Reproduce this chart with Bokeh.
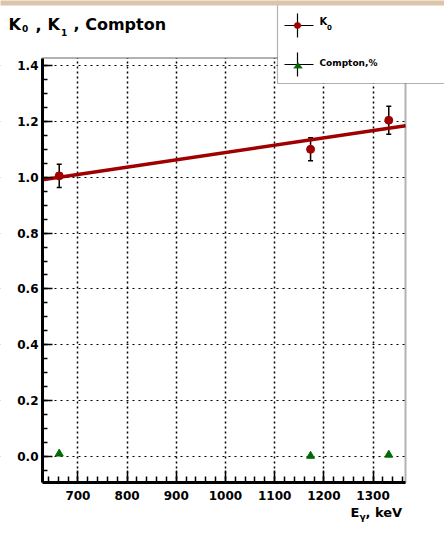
from bokeh.plotting import figure
from bokeh.models import (Range1d, FixedTicker, PrintfTickFormatter, Whisker, TeeHead,
                          Label, BoxAnnotation, Arrow, PolyAnnotation, ColumnDataSource)
from bokeh.embed import file_html
from bokeh.resources import INLINE
import numpy as np

# ---------------- data ----------------
energy_kev = [662, 1173, 1332]
k0_values = [1.005, 1.100, 1.204]
k0_errors = [0.042, 0.041, 0.050]
compton_values = [0.010, 0.002, 0.006]
fit_intercept = 0.8265
fit_slope = 0.000262
x_ticks = [700, 800, 900, 1000, 1100, 1200, 1300]
y_ticks = [0.0, 0.2, 0.4, 0.6, 0.8, 1.0, 1.2, 1.4]
x_minor_ticks = list(range(640, 1361, 20))
y_minor_ticks = [round(-0.05 + 0.05 * i, 2) for i in range(30)]
x_lo, x_hi = 628, 1366          # plot-box data limits
y_lo, y_hi = -0.093, 1.427

# ---------------- layout (pixels) ----------------
W, H = 444, 533
BOX_L, BOX_R, BOX_T, BOX_B = 42, 405, 57.5, 482
TXT_DY = 5  # baseline correction for labels

RED = "#a00000"
GREEN = "#006a00"
FONT = "DejaVu Sans"

# whole canvas is the frame; ranges extended so that the plot box sits where wanted
pxu_x = (BOX_R - BOX_L) / (x_hi - x_lo)
pxu_y = (BOX_B - BOX_T) / (y_hi - y_lo)
x_start = x_lo - BOX_L / pxu_x
x_end = x_hi + (W - BOX_R) / pxu_x
y_start = y_lo - (H - BOX_B) / pxu_y
y_end = y_hi + BOX_T / pxu_y

p = figure(width=W, height=H, output_backend="svg", toolbar_location=None,
           x_range=Range1d(x_start, x_end), y_range=Range1d(y_start, y_end),
           min_border_left=0, min_border_right=0, min_border_top=0, min_border_bottom=0)
p.title.visible = False
p.background_fill_color = "white"
p.border_fill_color = "white"
p.outline_line_color = None

# axes pinned to the plot box
p.xaxis.fixed_location = y_lo
p.yaxis.fixed_location = x_lo
p.xaxis.bounds = (x_lo, x_hi)
p.yaxis.bounds = (y_lo, y_hi)
for ax in (p.xaxis[0], p.yaxis[0]):
    ax.axis_line_width = 3
    ax.axis_line_color = "black"
    ax.major_tick_line_width = 1.5
    ax.minor_tick_line_width = 1.5
    ax.major_tick_out = 0
    ax.minor_tick_out = 0
    ax.major_label_text_font = FONT
    ax.major_label_text_font_style = "bold"
    ax.major_label_text_font_size = "12px"
    ax.major_label_text_color = "black"

p.xaxis.ticker = FixedTicker(ticks=x_ticks, minor_ticks=x_minor_ticks)
p.yaxis.ticker = FixedTicker(ticks=y_ticks, minor_ticks=y_minor_ticks)
p.yaxis.formatter = PrintfTickFormatter(format="%.1f")
p.xaxis.major_tick_in = 12
p.xaxis.minor_tick_in = 6
p.yaxis.major_tick_in = 10
p.yaxis.minor_tick_in = 5
p.xaxis.major_label_standoff = 8
p.yaxis.major_label_standoff = 4

p.xgrid.grid_line_color = "black"
p.xgrid.grid_line_dash = "2 3"
p.xgrid.grid_line_width = 1.5
p.ygrid.grid_line_color = "black"
p.ygrid.grid_line_dash = "2 4"
p.ygrid.grid_line_width = 1.2

# white covers so the grid stays inside the plot box
big = 1e4
for l, r, b, t in [(x_start - big, x_end + big, y_hi, y_end + big),
                   (x_start - big, x_end + big, y_start - big, y_lo),
                   (x_start - big, x_lo, y_start - big, y_end + big),
                   (x_hi, x_end + big, y_start - big, y_end + big)]:
    p.add_layout(BoxAnnotation(left=l, right=r, bottom=b, top=t, level="underlay",
                               fill_color="white", fill_alpha=1.0, line_color=None))

# fit line
fit_x = [x_lo, x_hi]
fit_y = [fit_intercept + fit_slope * x for x in fit_x]
p.line(fit_x, fit_y, line_color=RED, line_width=3.5)

# K0 points with error bars
src = ColumnDataSource(dict(x=energy_kev, y=k0_values,
                            lo=[v - e for v, e in zip(k0_values, k0_errors)],
                            hi=[v + e for v, e in zip(k0_values, k0_errors)]))
p.add_layout(Whisker(source=src, base="x", lower="lo", upper="hi",
                     line_color="black", line_width=1.5,
                     upper_head=TeeHead(size=5, line_width=1.5, line_color="black"),
                     lower_head=TeeHead(size=5, line_width=1.5, line_color="black")))
p.scatter("x", "y", source=src, marker="circle", size=8, fill_color=RED, line_color=RED)

# Compton points
p.scatter(energy_kev, compton_values, marker="triangle", size=8,
          fill_color=GREEN, line_color=GREEN)

# plot-box outline (top/right borders)
p.add_layout(BoxAnnotation(left=x_lo, right=x_hi, bottom=y_lo, top=y_hi,
                           fill_alpha=0, line_color="black", line_width=2))


# ---------- screen helpers: page coords (y down) -> frame screen (y up) ----------
def sx(X):
    return X


def sy(Y):
    return H - Y


def lab(X, Y, text, size, color="black"):
    p.add_layout(Label(x=sx(X), y=sy(Y - TXT_DY), x_units="screen", y_units="screen", text=text,
                       text_font=FONT, text_font_style="bold", text_font_size=f"{size}px",
                       text_color=color, text_baseline="alphabetic", text_align="left"))


# title
lab(8, 29.3, "K", 16)
lab(21.5, 33.3, "0", 9)
lab(35, 29.3, ",", 16)
lab(47, 29.3, "K", 16)
lab(60.5, 36.7, "1", 9)
lab(73, 29.3, ", Compton", 16)

# x axis label
lab(350, 517, "E", 13)
lab(359, 521, "γ", 9)
lab(365, 517, ", keV", 13)

# legend box
p.add_layout(BoxAnnotation(left=sx(277), right=sx(460), bottom=sy(83), top=sy(-5),
                           left_units="screen", right_units="screen",
                           bottom_units="screen", top_units="screen",
                           fill_color="white", fill_alpha=1.0,
                           line_color="black", line_width=1.2))


def seg(X0, Y0, X1, Y1):
    p.add_layout(Arrow(x_start=sx(X0), y_start=sy(Y0), x_end=sx(X1), y_end=sy(Y1),
                       start_units="screen", end_units="screen", end=None,
                       line_color="black", line_width=1.2))


# K0 entry
seg(284, 25, 313, 25)
seg(297, 13, 297, 37)
ang = np.linspace(0, 2 * np.pi, 24, endpoint=False)
p.add_layout(PolyAnnotation(xs=list(sx(297) + 3.5 * np.cos(ang)), ys=list(sy(25) + 3.2 * np.sin(ang)),
                            xs_units="screen", ys_units="screen",
                            fill_color=RED, fill_alpha=1, line_color=RED))
lab(319, 25.7, "K", 10)
lab(326.5, 31, "0", 7)

# Compton entry
seg(284, 64, 313, 64)
seg(297, 52, 297, 76)
p.add_layout(PolyAnnotation(xs=[sx(293), sx(302), sx(297.5)], ys=[sy(67.7), sy(67.7), sy(62)],
                            xs_units="screen", ys_units="screen",
                            fill_color=GREEN, fill_alpha=1, line_color=GREEN))
lab(319, 67.7, "Compton,%", 9)

# top beige strip of the original canvas
p.add_layout(BoxAnnotation(left=sx(-5), right=sx(W + 5), bottom=sy(5), top=sy(-5),
                           left_units="screen", right_units="screen",
                           bottom_units="screen", top_units="screen",
                           fill_color="#dcc4aa", fill_alpha=1.0, line_color=None))

open("out.html", "w").write(file_html(p, INLINE))
